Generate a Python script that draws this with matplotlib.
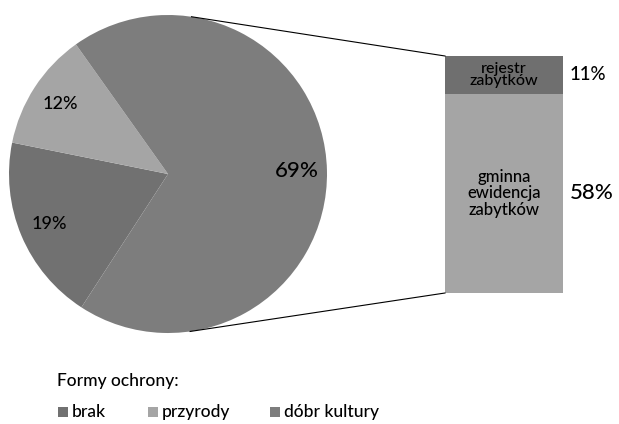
import numpy as np
import matplotlib
matplotlib.use("Agg")
import matplotlib.pyplot as plt
from matplotlib.patches import Rectangle

# pie data (forms of protection)
pie_labels = ["brak", "przyrody", "dóbr kultury"]
pie_values = [19, 12, 69]
pie_colors = ["#717171", "#a5a5a5", "#7d7d7d"]

# breakdown of "dóbr kultury"
bar_labels = ["gminna\newidencja\nzabytków", "rejestr\nzabytków"]
bar_values = [58, 11]
bar_colors = ["#a5a5a5", "#6f6f6f"]

plt.rcParams['font.family'] = ['Lato', 'DejaVu Sans']
plt.rcParams['font.weight'] = 'medium'

W, H = 619, 424
fig = plt.figure(figsize=(W / 100, H / 100), dpi=100)
ax = fig.add_axes([0, 0, 1, 1])

# pie, pixel-like coordinates with y pointing up
cx, cy, r = 168, H - 174, 159
wedges, texts, autotexts = ax.pie(pie_values, colors=pie_colors, center=(cx, cy), radius=r,
                                  startangle=237, counterclock=False, autopct='%.0f%%',
                                  pctdistance=0.81, frame=True,
                                  wedgeprops=dict(linewidth=0))
for t, fs in zip(autotexts, [13, 13, 16]):
    t.set_fontsize(fs)
    t.set_color('black')

# stacked bar for the split slice
bx, bw = 504, 118
bbottom, btop = H - 293, H - 56
scale = (btop - bbottom) / sum(bar_values)
bottom = bbottom
for val, col, lab, fs in zip(bar_values, bar_colors, bar_labels, [12, 11.5]):
    h = val * scale
    ax.bar(bx, h, width=bw, bottom=bottom, color=col, linewidth=0)
    ax.text(bx, bottom + h / 2, lab, ha='center', va='center', fontsize=fs,
            linespacing=1.05 if val == 58 else 0.85)
    ax.text(bx + bw / 2 + 7, bottom + h / 2, "%d%%" % val, ha='left', va='center',
            fontsize=16 if val == 58 else 13.5)
    bottom += h

# connector lines
for ang, yb in [(81.5, btop), (-82, bbottom)]:
    px = cx + r * np.cos(np.radians(ang))
    py = cy + r * np.sin(np.radians(ang))
    ax.plot([px, bx - bw / 2], [py, yb], color='black', linewidth=0.8)

# legend
ax.text(57, H - 381, "Formy ochrony:", ha='left', va='center', fontsize=12.5)
leg_x = [58, 148, 270]
for x, lab, col in zip(leg_x, pie_labels, pie_colors):
    ax.add_patch(Rectangle((x, H - 417), 10, 10, color=col, linewidth=0))
    ax.text(x + 14, H - 412, lab, ha='left', va='center', fontsize=12.5)

ax.set_xlim(0, W)
ax.set_ylim(0, H)
ax.set_aspect('equal')
ax.axis('off')

fig.savefig("out.png", dpi=100)
